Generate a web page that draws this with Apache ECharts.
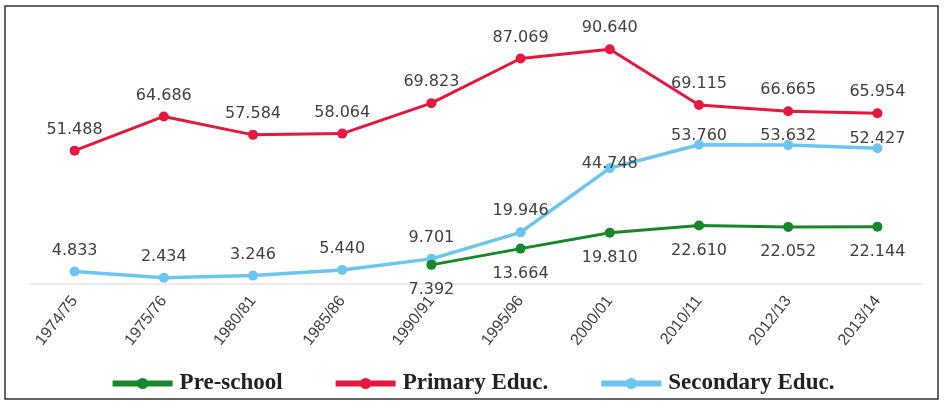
<!DOCTYPE html>
<html>
<head>
<meta charset="utf-8">
<script src="https://cdn.jsdelivr.net/npm/echarts@6/dist/echarts.min.js"></script>
<style>
  html, body { margin: 0; padding: 0; background: #fff; }
  #main { width: 944px; height: 402px; }
</style>
</head>
<body>
<div id="main"></div>
<script>
// 年度
let years = ['1974/75', '1975/76', '1980/81', '1985/86', '1990/91', '1995/96', '2000/01', '2010/11', '2012/13', '2013/14'];
let preSchool = [null, null, null, null, 7.392, 13.664, 19.810, 22.610, 22.052, 22.144];
let primary = [51.488, 64.686, 57.584, 58.064, 69.823, 87.069, 90.640, 69.115, 66.665, 65.954];
let secondary = [4.833, 2.434, 3.246, 5.440, 9.701, 19.946, 44.748, 53.760, 53.632, 52.427];

let myChart = echarts.init(document.getElementById('main'));

let labelFont = {
    fontFamily: 'DejaVu Sans',
    fontSize: 16,
    color: '#404040'
};

let option = {
    animation: false,
    graphic: [{
        type: 'rect',
        shape: { x: 5, y: 6, width: 933, height: 393 },
        style: { fill: 'none', stroke: '#333', lineWidth: 1.5 }
    }],
    legend: {
        left: 'center',
        top: 367,
        itemWidth: 60,
        itemHeight: 14,
        itemGap: 50,
        lineStyle: { width: 6 },
        textStyle: {
            fontFamily: 'Liberation Serif',
            fontWeight: 'bold',
            fontSize: 23,
            color: '#222',
            padding: [0, 0, 0, 2]
        },
        data: ['Pre-school', 'Primary Educ.', 'Secondary Educ.']
    },
    grid: {
        left: 30,
        right: 22,
        top: 25,
        bottom: 118
    },
    xAxis: {
        type: 'category',
        boundaryGap: true,
        data: years,
        axisLine: { lineStyle: { color: '#e3e3e3', width: 1.5 } },
        axisTick: { show: false },
        axisLabel: {
            rotate: 52,
            margin: 14,
            fontFamily: 'Liberation Sans',
            fontSize: 16,
            color: '#404040'
        }
    },
    yAxis: {
        type: 'value',
        min: 0,
        max: 100,
        show: false,
        splitLine: { show: false }
    },
    series: [
        {
            name: 'Pre-school',
            type: 'line',
            data: preSchool,
            color: '#17882a',
            symbol: 'circle',
            symbolSize: 10,
            lineStyle: { width: 3 },
            label: Object.assign({ show: true, position: 'bottom', distance: 12, formatter: p => p.value.toFixed(3) }, labelFont),
            z: 3
        },
        {
            name: 'Primary Educ.',
            type: 'line',
            data: primary,
            color: '#e5183f',
            symbol: 'circle',
            symbolSize: 10,
            lineStyle: { width: 3 },
            label: Object.assign({ show: true, position: 'top', distance: 8, formatter: p => p.value.toFixed(3) }, labelFont),
            z: 3
        },
        {
            name: 'Secondary Educ.',
            type: 'line',
            data: secondary,
            color: '#6cc5f0',
            symbol: 'circle',
            symbolSize: 10,
            lineStyle: { width: 3.5 },
            label: Object.assign({ show: true, position: 'top', distance: 8, formatter: p => p.value.toFixed(3) }, labelFont),
            // 后段标签贴近线条
            labelLayout: function (params) {
                if (params.dataIndex === 6) return { dy: 17 };
                if (params.dataIndex > 6) return { dy: 12 };
                return {};
            },
            z: 2
        }
    ]
};

myChart.setOption(option);

window.onresize = function () {
    myChart.resize();
}
</script>
</body>
</html>
